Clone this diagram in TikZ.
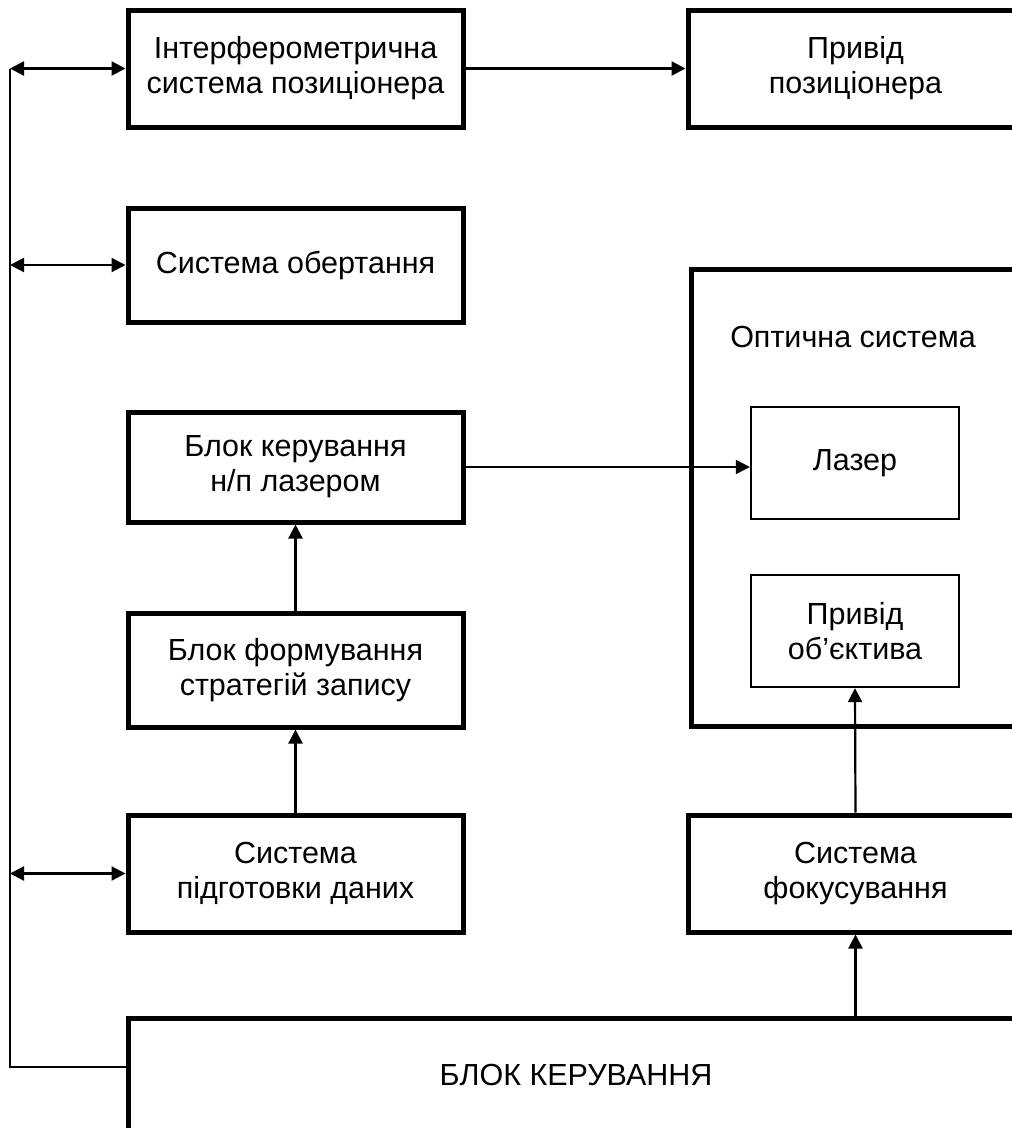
\documentclass[tikz,border=0pt]{standalone}
\usepackage{fontspec}
\setmainfont{Liberation Sans}
\usetikzlibrary{arrows.meta}

\tikzset{
  box/.style={draw, line width=5pt, minimum width=335pt, align=center,
    inner sep=0pt, font=\fontsize{30.5}{35}\selectfont},
  smallbox/.style={draw, line width=2.3pt, minimum width=208pt, minimum height=112pt,
    align=center, inner sep=0pt, font=\fontsize{30.5}{35}\selectfont},
  conn/.style={line width=2.2pt, -{Triangle[length=14pt,width=14pt]}},
  biconn/.style={line width=2.2pt, {Triangle[length=14pt,width=14pt]}-{Triangle[length=14pt,width=14pt]}},
  busline/.style={line width=1.4pt}
}

\begin{document}
\begin{tikzpicture}[x=1pt, y=-1pt]
  \useasboundingbox (0,0) rectangle (1012,1128);
  \clip (0,0) rectangle (1012,1128);

  % left column
  \node[box, minimum height=117pt] (interf) at (295.5,68.5) {Інтерферометрична\\система позиціонера};
  \node[box, minimum height=114pt] (obert) at (295.5,265) {Система обертання};
  \node[box, minimum height=110pt] (lasctl) at (295.5,467) {Блок керування\\н/п лазером};
  \node[box, minimum height=114pt] (strat) at (295.5,670) {Блок формування\\стратегій запису};
  \node[box, minimum height=117pt] (prep) at (295.5,873.5) {Система\\підготовки даних};

  % right column
  \node[box, minimum height=117pt] (privpos) at (855.5,68.5) {Привід\\позиціонера};
  \node[box, minimum width=328pt, minimum height=457pt] (optic) at (855,497.5) {};
  \node[font=\fontsize{30.5}{35}\selectfont] (optitle) at (853,337) {Оптична система};
  \node[smallbox] (laser) at (855,463) {Лазер};
  \node[smallbox] (lens) at (855,631) {Привід\\об’єктива};
  \node[box, minimum height=117pt] (focus) at (855.5,873.5) {Система\\фокусування};

  % main control block
  \node[box, minimum width=896pt, minimum height=114pt] (ctl) at (576,1075) {БЛОК КЕРУВАННЯ};

  % bus
  \coordinate (bustop) at (10,68.5);
  \coordinate (bus) at (10,1067);
  \draw[busline] (ctl.west |- bus) -- (bus) -- (bustop);

  % connectors
  \draw[biconn] (bustop) -- (interf.west);
  \draw[biconn] (bus |- obert.west) -- (obert.west);
  \draw[biconn] (bus |- prep.west) -- (prep.west);
  \draw[conn] (interf.east) -- (privpos.west);
  \draw[conn] (lasctl.east) -- (lasctl.east -| laser.west);
  \draw[conn] (prep.north) -- (strat.south);
  \draw[conn] (strat.north) -- (lasctl.south);
  \draw[conn] (ctl.north -| focus.south) -- (focus.south);
  \draw[conn] (focus.north) -- (lens.south);
\end{tikzpicture}
\end{document}
